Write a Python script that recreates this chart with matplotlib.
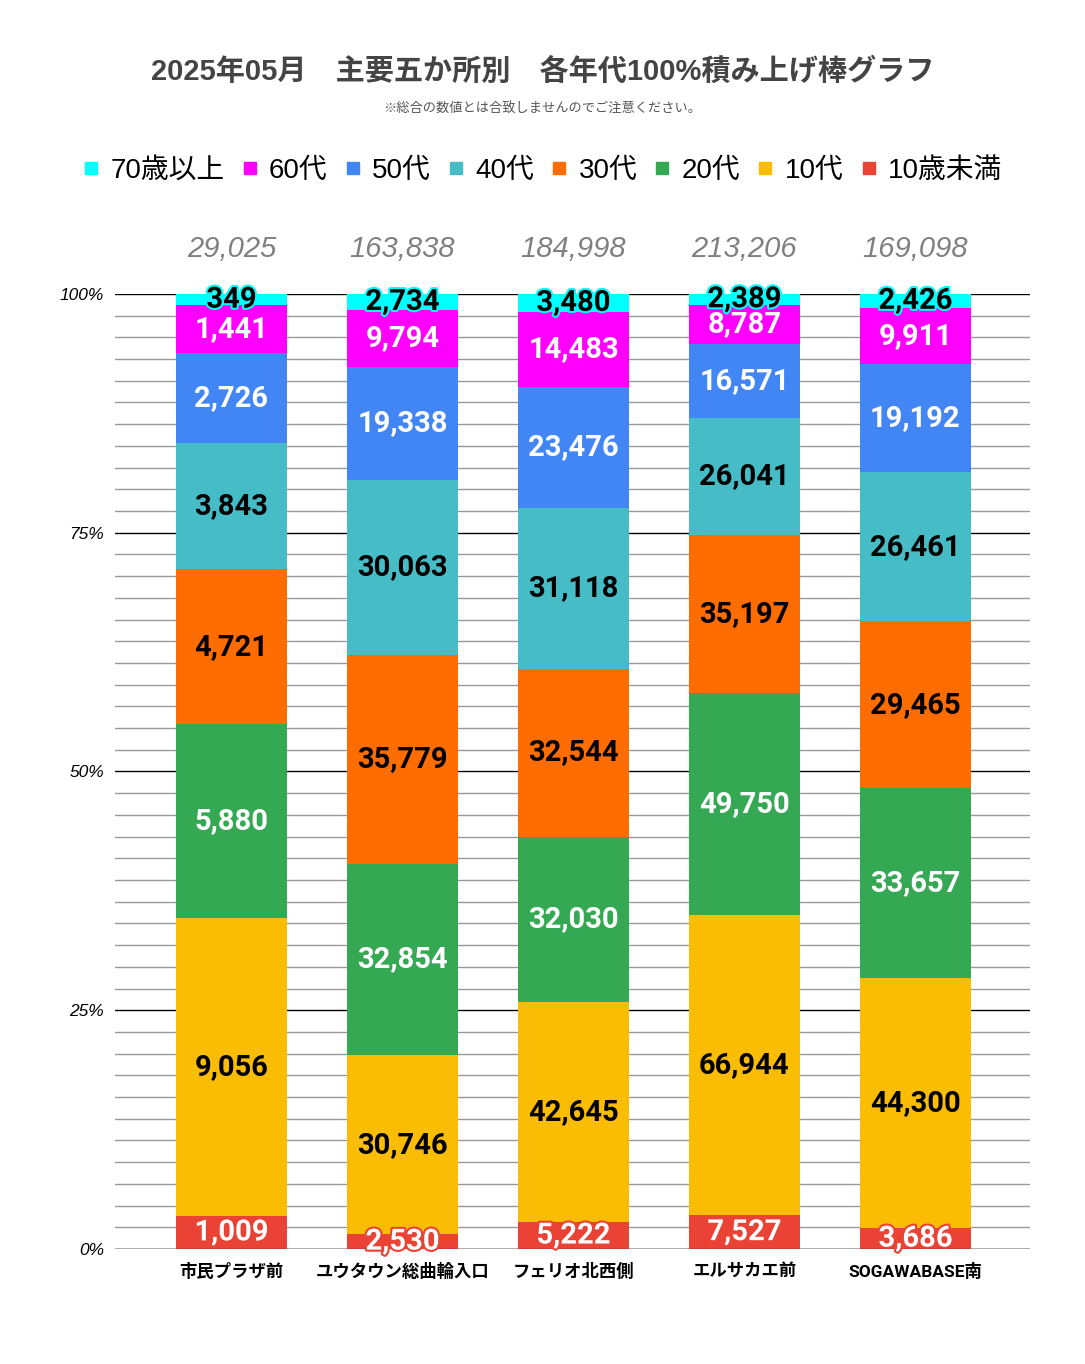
import numpy as np
import matplotlib.pyplot as plt
import matplotlib.patheffects as pe
from matplotlib.lines import Line2D
from matplotlib.ticker import MultipleLocator, FixedLocator

# データ
場所 = ['市民プラザ前', 'ユウタウン総曲輪入口', 'フェリオ北西側', 'エルサカエ前', 'SOGAWABASE南']
合計 = [29025, 163838, 184998, 213206, 169098]

# 下から順に積む
年代 = ['10歳未満', '10代', '20代', '30代', '40代', '50代', '60代', '70歳以上']
未満10 = [1009, 2530, 5222, 7527, 3686]
代10 = [9056, 30746, 42645, 66944, 44300]
代20 = [5880, 32854, 32030, 49750, 33657]
代30 = [4721, 35779, 32544, 35197, 29465]
代40 = [3843, 30063, 31118, 26041, 26461]
代50 = [2726, 19338, 23476, 16571, 19192]
代60 = [1441, 9794, 14483, 8787, 9911]
以上70 = [349, 2734, 3480, 2389, 2426]

色 = ['#EA4335', '#FBBC04', '#34A853', '#FF6D01', '#46BDC6', '#4285F4', '#FF00FF', '#00FFFF']
文字色 = ['white', 'black', 'white', 'black', 'black', 'white', 'white', 'black']

JP = ['Roboto', 'Noto Sans CJK JP']


def main():
    series = [未満10, 代10, 代20, 代30, 代40, 代50, 代60, 以上70]
    values = np.array(series, dtype=float)
    pct = values / values.sum(axis=0) * 100

    fig = plt.figure(figsize=(10.85, 13.64), dpi=100)
    ax = fig.add_axes([0.106, 0.0843, 0.8433, 0.7002])

    x = np.arange(len(場所))
    bottom = np.zeros(len(場所))
    for i, name in enumerate(年代):
        ax.bar(x, pct[i], bottom=bottom, width=0.65, color=色[i], zorder=3, label=name)
        for j in range(len(場所)):
            effects = None
            if i == 0:
                effects = [pe.withStroke(linewidth=3, foreground='#EA4335')]
            elif i == 7:
                effects = [pe.withStroke(linewidth=3, foreground='#00FFFF')]
            ax.text(x[j], bottom[j] + pct[i][j] / 2, f'{int(values[i][j]):,}',
                    ha='center', va='center', fontsize=21, fontweight='bold',
                    family='Roboto', color=文字色[i], zorder=5, path_effects=effects)
        bottom += pct[i]

    # 合計
    for j in range(len(場所)):
        ax.text(x[j], 104.7, f'{合計[j]:,}', ha='center', va='center', fontsize=21,
                style='italic', family='Liberation Sans', color='#808080', clip_on=False)

    ax.set_xlim(-0.681, 4.67)
    ax.set_ylim(0, 100)
    ax.yaxis.set_major_locator(FixedLocator([0, 25, 50, 75, 100]))
    ax.yaxis.set_minor_locator(MultipleLocator(100 / 44))
    ax.set_yticklabels(['0%', '25%', '50%', '75%', '100%'], fontsize=12.5, style='italic',
                       family='Liberation Sans')
    ax.grid(axis='y', which='minor', color='#999999', linewidth=1, zorder=0)
    ax.grid(axis='y', which='major', color='black', linewidth=1, zorder=1)
    ax.tick_params(axis='both', which='both', length=0)
    ax.tick_params(axis='y', pad=8)
    ax.tick_params(axis='x', pad=10)
    ax.set_xticks(x)
    ax.set_xticklabels(場所, fontsize=12.5, fontweight='bold', family=JP)
    for s in ax.spines.values():
        s.set_visible(False)
    ax.axhline(0, color='#333333', linewidth=1, zorder=4)

    # 凡例
    handles = [Line2D([], [], marker='s', linestyle='none', markersize=8,
                      markerfacecolor=色[i], markeredgecolor=色[i], label=年代[i])
               for i in range(len(年代) - 1, -1, -1)]
    fig.legend(handles=handles, loc='center', bbox_to_anchor=(0.5, 1 - 171 / 1364),
               ncol=8, frameon=False,
               prop={'family': ['Liberation Sans', 'Noto Sans CJK JP'], 'size': 20},
               handlelength=0.6, handletextpad=0.4, columnspacing=0.6)

    fig.text(0.5, 1 - 72 / 1364, '2025年05月　主要五か所別　各年代100%積み上げ棒グラフ',
             ha='center', va='center', fontsize=21, fontweight='bold',
             family=['Liberation Sans', 'Noto Sans CJK JP'], color='#444444')
    fig.text(0.5, 1 - 109 / 1364, '※総合の数値とは合致しませんのでご注意ください。',
             ha='center', va='center', fontsize=9.5, family='Noto Sans CJK JP', color='#555555')

    fig.savefig('out.png', dpi=100)


if __name__ == "__main__":
    main()
